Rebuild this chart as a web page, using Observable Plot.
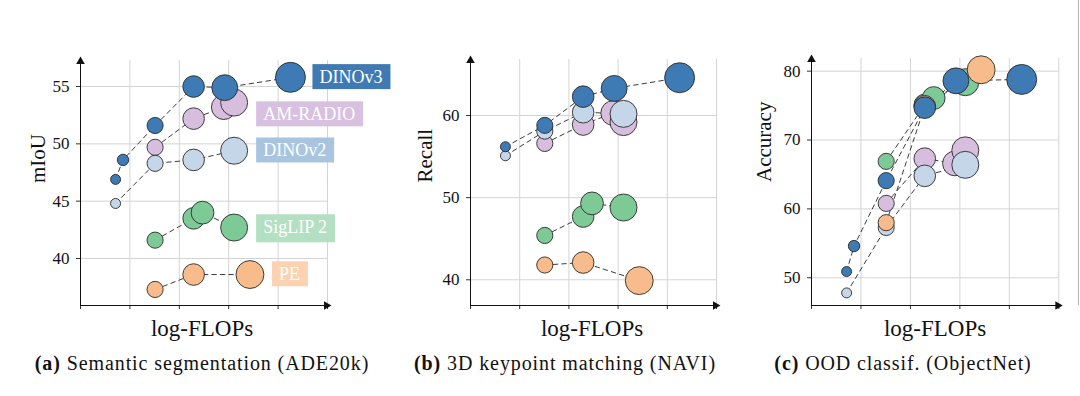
<!DOCTYPE html>
<html><head><meta charset="utf-8">
<script src="https://cdn.jsdelivr.net/npm/d3@7"></script>
<script src="https://cdn.jsdelivr.net/npm/@observablehq/plot@0.6"></script>
<style>
body{margin:0;background:#fff;}
#root{position:relative;width:1080px;height:396px;overflow:hidden;font-family:"Liberation Serif",serif;color:#111;}
.panel{position:absolute;top:0;width:420px;height:320px;}
.panel svg{max-width:none !important;}
.xl{position:absolute;top:317px;font-size:23px;line-height:1;transform:translateX(-50%);white-space:nowrap;}
.cap{position:absolute;top:353px;font-size:20px;line-height:1;letter-spacing:0.9px;transform:translateX(-50%);white-space:nowrap;}
.edge{position:absolute;left:1078px;top:0;width:1px;height:305px;background:#b5b5b5;}
</style></head><body><div id="root"></div>
<script>
// ---- data ----
const seriesNames = ["DINOv3", "AM-RADIO", "DINOv2", "SigLIP 2", "PE"];
const seriesColors = ["#3e7ab4", "#d8bede", "#c5d6e8", "#7eca96", "#f8bb8c"];
const labelBoxColors = ["#3f7ab3", "#d8c0e0", "#a9c4df", "#b3dfc2", "#fdd2b2"];
const drawOrder = ["AM-RADIO", "SigLIP 2", "DINOv2", "PE", "DINOv3"];

const modelNames = ["S", "S+", "B", "L", "SO400M", "H", "H+", "g", "G", "7B"];
const modelLogFlops = [0.71, 0.86, 1.51, 2.29, 2.47, 2.90, 2.92, 3.11, 3.43, 4.25];
const modelParamsM = [21, 29, 86, 300, 400, 632, 840, 1100, 1900, 6700];

const modelsDINOv3 = ["S", "S+", "B", "L", "H+", "7B"];
const modelsDINOv3Navi = ["S", "B", "L", "H+", "7B"];
const modelsAMRADIO = ["B", "L", "H", "g"];
const modelsDINOv2 = ["S", "B", "L", "g"];
const modelsSigLIP2 = ["B", "L", "SO400M", "g"];
const modelsPE = ["B", "L", "G"];

// (a) Semantic segmentation (ADE20k), mIoU
const mIoU_DINOv3 = [46.9, 48.6, 51.6, 55.0, 54.9, 55.8];
const mIoU_AMRADIO = [49.7, 52.2, 53.2, 53.6];
const mIoU_DINOv2 = [44.8, 48.3, 48.6, 49.4];
const mIoU_SigLIP2 = [41.6, 43.5, 44.0, 42.7];
const mIoU_PE = [37.3, 38.6, 38.6];
// (b) 3D keypoint matching (NAVI), Recall
const recall_DINOv3 = [56.2, 58.8, 62.3, 63.3, 64.6];
const recall_AMRADIO = [56.6, 58.9, 60.3, 59.2];
const recall_DINOv2 = [55.1, 58.1, 60.4, 60.2];
const recall_SigLIP2 = [45.4, 47.7, 49.3, 48.8];
const recall_PE = [41.8, 42.1, 39.9];
// (c) OOD classif. (ObjectNet), Accuracy
const acc_DINOv3 = [50.9, 54.6, 64.1, 74.7, 78.6, 78.8];
const acc_AMRADIO = [60.8, 67.3, 66.6, 68.5];
const acc_DINOv2 = [47.8, 57.3, 64.8, 66.4];
const acc_SigLIP2 = [66.9, 75.1, 76.1, 78.4];
const acc_PE = [58.0, 74.9, 80.2];

const ticksA = [40, 45, 50, 55];
const ticksB = [40, 50, 60];
const ticksC = [50, 60, 70, 80];
const xTicks = [0, 1, 2, 3, 4, 5];

// ---- helpers ----
function rows(spec) {
  const out = [];
  for (const name of drawOrder) {
    const [models, vals] = spec[name];
    models.forEach((m, i) => {
      const k = modelNames.indexOf(m);
      out.push({series: name, model: m, x: modelLogFlops[k], p: modelParamsM[k], y: vals[i]});
    });
  }
  return out;
}

function makePanel(o) {
  const data = rows(o.spec);
  const marks = [
    Plot.gridX(xTicks.slice(1), {stroke: "#d4d4d4", strokeOpacity: 1}),
    Plot.gridY(o.ticks, {stroke: "#d4d4d4", strokeOpacity: 1}),
    Plot.axisX(xTicks, {tickSize: 4, tickFormat: () => "", label: null, stroke: "#333"}),
    Plot.axisY(o.ticks, {tickSize: 4, tickPadding: 7, fontSize: 17, fill: "#111", label: null, stroke: "#333"}),
    Plot.ruleX([0], {stroke: "#111"}),
    Plot.ruleY([o.domain[0]], {stroke: "#111"}),
    Plot.dot([0], {frameAnchor: "bottom-right", symbol: "triangle", rotate: 90, r: 3.2, fill: "#111", dx: -1}),
    Plot.dot([0], {frameAnchor: "top-left", symbol: "triangle", r: 3.2, fill: "#111", dy: 1}),
    Plot.text([o.ylabel], {frameAnchor: "left", dx: o.ylabelDx, rotate: -90, fontSize: 21, fill: "#111"}),
    Plot.line(data, {x: "x", y: "y", z: "series", stroke: "#3a3a3a", strokeWidth: 1, strokeDasharray: "4.5,4"}),
    Plot.dot(data, {x: "x", y: "y", r: "p", fill: "series", stroke: "#2a2a2a", strokeWidth: 0.9, sort: null})
  ];
  if (o.labels) {
    for (const name of seriesNames) {
      const last = data.filter(d => d.series === name).slice(-1)[0];
      marks.push(Plot.text([last], {
        x: "x", y: "y", text: () => name, dx: 29, dy: name === "AM-RADIO" ? 12 : 0,
        textAnchor: "start", fill: "white", fontSize: 18
      }));
    }
  }
  const chart = Plot.plot({
    width: 420, height: 320,
    marginLeft: 80, marginRight: o.marginRight, marginTop: o.marginTop, marginBottom: 15,
    x: {domain: [0, 5], axis: null},
    y: {domain: o.domain, axis: null},
    r: {type: "log", domain: [21, 300, 1100, 6700], range: [5, 10.8, 13.5, 15]},
    color: {domain: seriesNames, range: seriesColors},
    style: {fontFamily: "Liberation Serif, serif", fontSize: "17px", background: "transparent", overflow: "visible", color: "#111", maxWidth: "none"},
    marks
  });
  const wrap = document.createElement("div");
  wrap.className = "panel";
  wrap.style.left = o.left + "px";
  wrap.appendChild(chart);
  document.getElementById("root").appendChild(wrap);
  if (o.labels) {
    chart.querySelectorAll("text").forEach(t => {
      const i = seriesNames.indexOf(t.textContent.trim());
      if (i < 0) return;
      const b = t.getBBox();
      const name = seriesNames[i];
      const h = /[gpqyj]/.test(name) ? 28 : 25;
      const cy = b.y + b.height / 2 + (h === 28 ? 1.5 : 0) - 0.5;
      const r = document.createElementNS("http://www.w3.org/2000/svg", "rect");
      r.setAttribute("x", b.x - 7);
      r.setAttribute("y", cy - h / 2);
      r.setAttribute("width", b.width + 15);
      r.setAttribute("height", h);
      r.setAttribute("fill", labelBoxColors[i]);
      const tr = t.getAttribute("transform");
      if (tr) r.setAttribute("transform", tr);
      t.parentNode.insertBefore(r, t);
    });
  }
}

makePanel({
  left: 0, marginRight: 93, marginTop: 60, domain: [35.9, 57.27], ticks: ticksA, ylabel: "mIoU", ylabelDx: -42.5, labels: true,
  spec: {"DINOv3": [modelsDINOv3, mIoU_DINOv3], "AM-RADIO": [modelsAMRADIO, mIoU_AMRADIO], "DINOv2": [modelsDINOv2, mIoU_DINOv2], "SigLIP 2": [modelsSigLIP2, mIoU_SigLIP2], "PE": [modelsPE, mIoU_PE]}
});
makePanel({
  left: 390, marginRight: 94, marginTop: 59, domain: [36.87, 66.82], ticks: ticksB, ylabel: "Recall", ylabelDx: -45,
  spec: {"DINOv3": [modelsDINOv3Navi, recall_DINOv3], "AM-RADIO": [modelsAMRADIO, recall_AMRADIO], "DINOv2": [modelsDINOv2, recall_DINOv2], "SigLIP 2": [modelsSigLIP2, recall_SigLIP2], "PE": [modelsPE, recall_PE]}
});
makePanel({
  left: 731, marginRight: 92.7, marginTop: 58, domain: [45.97, 81.84], ticks: ticksC, ylabel: "Accuracy", ylabelDx: -47.5,
  spec: {"DINOv3": [modelsDINOv3, acc_DINOv3], "AM-RADIO": [modelsAMRADIO, acc_AMRADIO], "DINOv2": [modelsDINOv2, acc_DINOv2], "SigLIP 2": [modelsSigLIP2, acc_SigLIP2], "PE": [modelsPE, acc_PE]}
});

// ---- titles / captions ----
const xLabelCenters = [202, 592, 935];
const captionCenters = [202, 565, 903];
const captionTags = ["(a)", "(b)", "(c)"];
const captionTexts = ["Semantic segmentation (ADE20k)", "3D keypoint matching (NAVI)", "OOD classif. (ObjectNet)"];
const root = document.getElementById("root");
xLabelCenters.forEach((cx, i) => {
  const d = document.createElement("div");
  d.className = "xl"; d.style.left = cx + "px"; d.textContent = "log-FLOPs";
  root.appendChild(d);
  const c = document.createElement("div");
  c.className = "cap"; c.style.left = captionCenters[i] + "px";
  const b = document.createElement("b"); b.textContent = captionTags[i];
  c.appendChild(b); c.appendChild(document.createTextNode(" " + captionTexts[i]));
  root.appendChild(c);
});
const edge = document.createElement("div"); edge.className = "edge"; root.appendChild(edge);
</script>
</body></html>
